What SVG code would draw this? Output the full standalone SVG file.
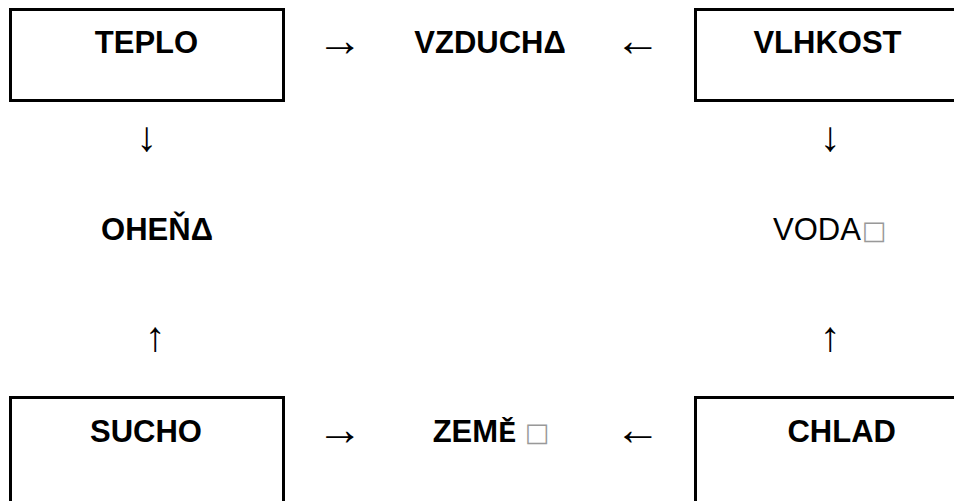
<svg xmlns="http://www.w3.org/2000/svg" width="954" height="501" viewBox="0 0 954 501">
<style>
.box{fill:none;stroke:#000;stroke-width:3}
.lbl{font-family:"Liberation Sans",Arial,sans-serif;font-size:31px;font-weight:bold;fill:#000;text-anchor:middle}
.st{text-anchor:start}
.reg{font-weight:normal}
.arr{font-family:"Liberation Serif","DejaVu Serif",serif;font-size:46px;fill:#000;text-anchor:middle}
.varr{font-family:"Liberation Serif","DejaVu Serif",serif;font-size:42px;fill:#000;text-anchor:middle}
.tofu{font-family:"DejaVu Sans",sans-serif;font-weight:normal;font-size:26px;fill:#999}
.mono{font-family:"Liberation Mono","Courier New",monospace;font-size:30px}
</style>
<rect width="954" height="501" fill="#fff"/>
<g id="teplo">
<rect class="box" x="10.5" y="9.5" width="273" height="91"/>
<text class="lbl" x="146.5" y="53">TEPLO</text>
</g>
<g id="vzduch">
<text class="lbl" x="490" y="53">VZDUCHΔ</text>
</g>
<g id="vlhkost">
<rect class="box" x="695.5" y="9.5" width="273" height="91"/>
<text class="lbl" x="827.5" y="53">VLHKOST</text>
</g>
<g id="ohen">
<text class="lbl" x="157" y="240">OHEŇΔ</text>
</g>
<g id="voda">
<text class="lbl reg st" x="773" y="240">VODA<tspan class="tofu" dx="1" dy="-1">□</tspan></text>
</g>
<g id="sucho">
<rect class="box" x="10.5" y="397.5" width="273" height="120"/>
<text class="lbl" x="146" y="441.7">SUCHO</text>
</g>
<g id="zeme">
<text class="lbl st" x="432.7" y="441.7">ZEM<tspan class="mono">Ě</tspan> <tspan class="tofu" dy="-1">□</tspan></text>
</g>
<g id="chlad">
<rect class="box" x="695.5" y="397.5" width="273" height="120"/>
<text class="lbl" x="841.7" y="441.7">CHLAD</text>
</g>
<g id="connectors">
<text class="arr" x="340" y="56">→</text>
<text class="arr" x="638" y="56">←</text>
<text class="varr" x="146.5" y="151">↓</text>
<text class="varr" x="830" y="151">↓</text>
<text class="varr" x="155" y="351">↑</text>
<text class="varr" x="830" y="351">↑</text>
<text class="arr" x="340" y="445">→</text>
<text class="arr" x="638" y="445">←</text>
</g>
</svg>
